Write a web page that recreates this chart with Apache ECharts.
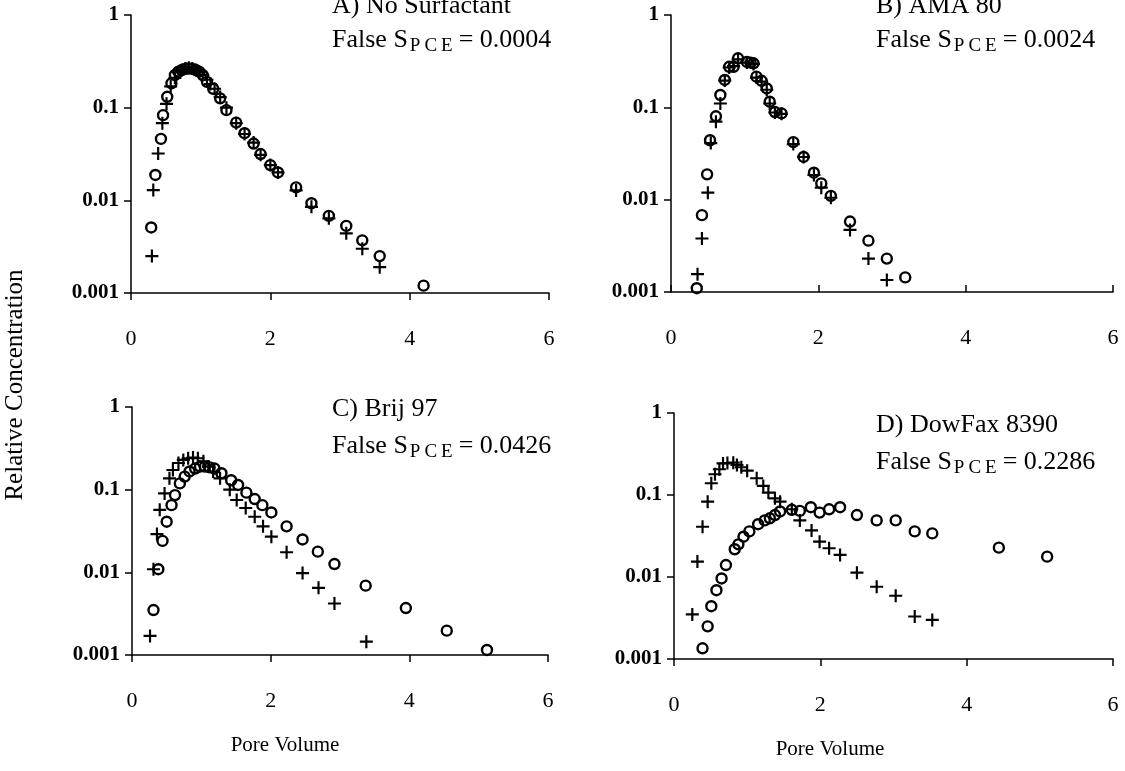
<!DOCTYPE html>
<html>
<head>
<meta charset="utf-8">
<script src="https://cdn.jsdelivr.net/npm/echarts@6/dist/echarts.min.js"></script>
<style>
html,body{margin:0;padding:0;background:#fff;}
#c{width:1125px;height:771px;}
</style>
</head>
<body>
<div id="c"></div>
<script>
// ---------- data (pore volume, relative concentration) ----------
const aCircles = [[0.29,0.0051],[0.35,0.0188],[0.43,0.046],[0.46,0.083],[0.52,0.131],[0.58,0.183],[0.63,0.225],[0.68,0.245],[0.73,0.255],[0.78,0.262],[0.83,0.265],[0.88,0.262],[0.93,0.255],[0.98,0.245],[1.03,0.225],[1.09,0.19],[1.18,0.16],[1.28,0.126],[1.37,0.094],[1.51,0.069],[1.63,0.053],[1.76,0.041],[1.86,0.0316],[2.0,0.024],[2.11,0.020],[2.37,0.0138],[2.59,0.0093],[2.84,0.0068],[3.09,0.0053],[3.32,0.0037],[3.57,0.0025],[4.2,0.0012]];
const aPlus = [[0.30,0.0025],[0.32,0.0129],[0.39,0.032],[0.45,0.068],[0.51,0.11],[0.57,0.17],[0.63,0.21],[0.68,0.24],[0.73,0.255],[0.78,0.265],[0.83,0.27],[0.88,0.265],[0.93,0.255],[0.98,0.24],[1.03,0.225],[1.09,0.2],[1.14,0.18],[1.2,0.16],[1.28,0.13],[1.37,0.1],[1.51,0.068],[1.63,0.052],[1.76,0.042],[1.86,0.031],[2.0,0.024],[2.11,0.020],[2.37,0.0128],[2.59,0.0085],[2.84,0.0064],[3.09,0.0044],[3.32,0.003],[3.57,0.0019]];
const bCircles = [[0.35,0.0011],[0.42,0.0068],[0.49,0.0188],[0.53,0.044],[0.61,0.080],[0.67,0.136],[0.73,0.198],[0.79,0.275],[0.85,0.275],[0.91,0.34],[1.03,0.31],[1.08,0.305],[1.12,0.30],[1.16,0.215],[1.23,0.194],[1.30,0.16],[1.34,0.115],[1.41,0.089],[1.50,0.086],[1.66,0.042],[1.80,0.029],[1.94,0.0196],[2.04,0.015],[2.17,0.011],[2.43,0.0058],[2.68,0.0036],[2.93,0.0023],[3.18,0.00144]];
const bPlus = [[0.36,0.00156],[0.42,0.0038],[0.50,0.0119],[0.54,0.041],[0.61,0.07],[0.67,0.11],[0.73,0.195],[0.79,0.27],[0.85,0.28],[0.91,0.33],[1.03,0.305],[1.12,0.295],[1.16,0.21],[1.23,0.19],[1.30,0.155],[1.34,0.11],[1.41,0.088],[1.50,0.085],[1.66,0.040],[1.80,0.029],[1.94,0.0185],[2.04,0.0135],[2.17,0.0105],[2.43,0.0047],[2.68,0.0023],[2.93,0.00135]];
const cCircles = [[0.31,0.0035],[0.38,0.0109],[0.44,0.024],[0.50,0.041],[0.57,0.065],[0.62,0.086],[0.69,0.119],[0.76,0.144],[0.83,0.166],[0.91,0.18],[0.98,0.19],[1.05,0.19],[1.12,0.186],[1.19,0.18],[1.29,0.158],[1.43,0.13],[1.53,0.114],[1.65,0.092],[1.77,0.077],[1.88,0.065],[2.01,0.053],[2.23,0.036],[2.46,0.025],[2.68,0.0178],[2.92,0.0126],[3.37,0.0069],[3.95,0.0037],[4.54,0.00197],[5.12,0.00115]];
const cPlus = [[0.26,0.0017],[0.31,0.0109],[0.36,0.029],[0.40,0.057],[0.47,0.09],[0.54,0.137],[0.59,0.173],[0.67,0.21],[0.74,0.229],[0.81,0.24],[0.88,0.245],[0.95,0.24],[1.03,0.22],[1.10,0.19],[1.17,0.166],[1.27,0.137],[1.41,0.1],[1.51,0.075],[1.64,0.06],[1.77,0.047],[1.89,0.036],[2.01,0.027],[2.23,0.0175],[2.46,0.0098],[2.69,0.0065],[2.92,0.0042],[3.38,0.00145]];
const dCircles = [[0.39,0.00135],[0.46,0.0025],[0.51,0.0044],[0.58,0.0069],[0.65,0.0096],[0.71,0.014],[0.83,0.0218],[0.88,0.025],[0.95,0.031],[1.03,0.036],[1.15,0.044],[1.24,0.049],[1.31,0.052],[1.38,0.057],[1.45,0.063],[1.61,0.066],[1.72,0.064],[1.87,0.071],[1.99,0.061],[2.12,0.067],[2.27,0.071],[2.50,0.057],[2.77,0.049],[3.03,0.049],[3.29,0.036],[3.53,0.034],[4.44,0.0228],[5.10,0.0177]];
const dPlus = [[0.25,0.0035],[0.32,0.0154],[0.39,0.041],[0.46,0.083],[0.51,0.139],[0.56,0.179],[0.62,0.206],[0.67,0.243],[0.73,0.245],[0.81,0.248],[0.86,0.232],[0.92,0.218],[1.0,0.198],[1.13,0.16],[1.22,0.129],[1.29,0.107],[1.38,0.091],[1.45,0.083],[1.61,0.067],[1.72,0.049],[1.88,0.037],[1.99,0.027],[2.12,0.0224],[2.27,0.0186],[2.50,0.0113],[2.77,0.0076],[3.03,0.0059],[3.29,0.0033],[3.53,0.0030]];

const panelTitles = ['A) No Surfactant','B) AMA 80','C) Brij 97','D) DowFax 8390'];
const falseValues = ['0.0004','0.0024','0.0426','0.2286'];
const yTickLabels = ['0.001','0.01','0.1','1'];
const xTickLabels = ['0','2','4','6'];
const xAxisTitle = 'Pore Volume';
const yAxisTitle = 'Relative Concentration';

// ---------- layout ----------
const grids = [
  {left:131, top:15, width:418, height:278},
  {left:671, top:15, width:442, height:277},
  {left:132, top:407, width:416, height:248},
  {left:674, top:413, width:439, height:246}
];
const tickInside = [false,true,false,false];
const textPos = [
  {x:332, title:6, main:40},
  {x:876, title:6, main:40},
  {x:332, title:409, main:446},
  {x:876, title:425, main:462}
];
const SERIF = '"Liberation Serif","Times New Roman",serif';
const FMAIN = 26, FSUB = 19;

const chart = echarts.init(document.getElementById('c'), null, {renderer:'canvas'});

const cnv = document.createElement('canvas').getContext('2d');
function w(str, size){ cnv.font = size + 'px ' + SERIF; return cnv.measureText(str).width; }
function txt(str, x, y, size, extra){
  return Object.assign({type:'text', x:x, y:y, silent:true,
    style:{text:str, font: size+'px '+SERIF, fill:'#000', align:'left', verticalAlign:'middle', textAlign:'left', textVerticalAlign:'middle'}}, extra||{});
}

const graphics = [];
panelTitles.forEach((t,i)=>{
  const p = textPos[i];
  graphics.push(txt(t, p.x, p.title, FMAIN));
  let x = p.x;
  graphics.push(txt('False S', x, p.main, FMAIN));
  x += w('False S', FMAIN) + 2;
  ['P','C','E'].forEach(ch=>{
    graphics.push(txt(ch, x, p.main + 6, FSUB));
    x += w(ch, FSUB) + 4;
  });
  x += 2;
  graphics.push(txt('= ' + falseValues[i], x, p.main, FMAIN));
});
function centered(str, x, y, size, rot){
  return {type:'text', x:x, y:y, rotation:rot||0, silent:true,
    style:{text:str, font:size+'px '+SERIF, fill:'#000', align:'center', verticalAlign:'middle', textAlign:'center', textVerticalAlign:'middle'}};
}
graphics.push(centered(yAxisTitle, 15, 385, 25, Math.PI/2));
graphics.push(centered(xAxisTitle, 285, 745, 21));
graphics.push(centered(xAxisTitle, 830, 749, 21));

const lineStyle = {color:'#000', width:1.5};
const xAxes = grids.map((g,i)=>({
  type:'value', gridIndex:i, min:0, max:6, interval:2,
  axisLine:{show:true, onZero:false, lineStyle:lineStyle},
  axisTick:{show:true, inside:tickInside[i], length:7, lineStyle:lineStyle},
  splitLine:{show:false},
  axisLabel:{margin:35, color:'#000', fontFamily:SERIF, fontSize:22,
    formatter:v=>{const k=Math.round(v/2); return xTickLabels[k]!==undefined?xTickLabels[k]:'';}}
}));
const yAxes = grids.map((g,i)=>({
  type:'log', logBase:10, gridIndex:i, min:0.001, max:1, splitNumber:3,
  axisLine:{show:true, lineStyle:lineStyle},
  axisTick:{show:true, inside:false, length:7, lineStyle:lineStyle},
  minorTick:{show:false},
  splitLine:{show:false},
  axisLabel:{margin:12, color:'#000', fontFamily:SERIF, fontSize:21, fontWeight:'bold',
    showMinLabel:true, showMaxLabel:true,
    formatter:v=>{const k=Math.round(Math.log10(v))+3; return yTickLabels[k]!==undefined?yTickLabels[k]:'';}}
}));

const plusPath = 'path://M5,0H7V5H12V7H7V12H5V7H0V5H5Z';
const sets = [[aCircles,aPlus],[bCircles,bPlus],[cCircles,cPlus],[dCircles,dPlus]];
const series = [];
sets.forEach((s,i)=>{
  series.push({type:'scatter', xAxisIndex:i, yAxisIndex:i, data:s[1], symbol:plusPath, symbolSize:13,
    itemStyle:{color:'#000', opacity:1}, emphasis:{disabled:true}, silent:true, z:2});
  series.push({type:'scatter', xAxisIndex:i, yAxisIndex:i, data:s[0], symbol:'circle', symbolSize:10,
    itemStyle:{color:'rgba(0,0,0,0)', borderColor:'#000', borderWidth:2.4, opacity:1}, emphasis:{disabled:true}, silent:true, z:3});
});

chart.setOption({
  animation:false,
  backgroundColor:'#fff',
  grid:grids.map(g=>Object.assign({containLabel:false}, g)),
  xAxis:xAxes,
  yAxis:yAxes,
  series:series,
  graphic:{elements:graphics}
});
</script>
</body>
</html>
